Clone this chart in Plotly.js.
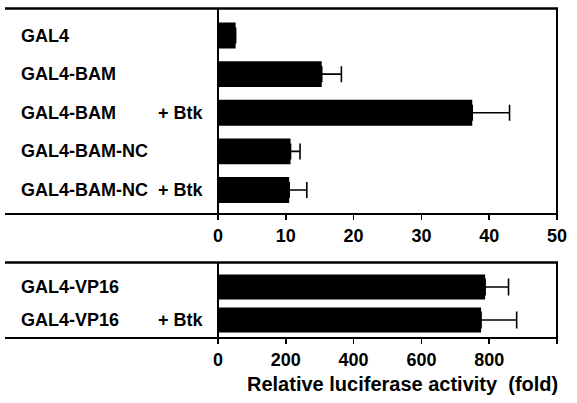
<!DOCTYPE html>
<html>
<head>
<meta charset="utf-8">
<script src="https://cdn.plot.ly/plotly-3.0.1.min.js"></script>
<style>html,body{margin:0;padding:0;background:#fff;}#chart{width:577px;height:403px;}</style>
</head>
<body>
<div id="chart"></div>
<script>
// ---- data ----
const topNames   = ["GAL4", "GAL4-BAM", "GAL4-BAM", "GAL4-BAM-NC", "GAL4-BAM-NC"];
const topBtk     = ["", "", "+ Btk", "", "+ Btk"];
const topValues  = [2.6, 15.3, 37.5, 10.7, 10.5];
const topErrors  = [0, 2.9, 5.5, 1.4, 2.6];

const botNames   = ["GAL4-VP16", "GAL4-VP16"];
const botBtk     = ["", "+ Btk"];
const botValues  = [788, 776];
const botErrors  = [69, 105];

const topTicks = [0, 10, 20, 30, 40, 50];
const botTicks = [0, 200, 400, 600, 800, 1000];
const xTitle = "Relative luciferase activity&nbsp; (fold)";

// ---- layout helpers ----
const W = 577, H = 403;
const px = x => x / W;
const py = y => 1 - y / H;
const FONT = "Liberation Sans, Arial, Helvetica, sans-serif";

const topKeys = topNames.map((n, i) => n + (topBtk[i] ? " " + topBtk[i] : ""));
const botKeys = botNames.map((n, i) => n + (botBtk[i] ? " " + botBtk[i] : ""));

const zeros = a => a.map(() => 0);

const traces = [
  {
    type: "bar", orientation: "h",
    x: topValues, y: topKeys, xaxis: "x", yaxis: "y",
    width: 0.67,
    marker: {color: "#000", line: {width: 0}},
    error_x: {type: "data", symmetric: false, array: topErrors, arrayminus: zeros(topErrors),
              color: "#000", thickness: 1.6, width: 8},
    hoverinfo: "none"
  },
  {
    type: "bar", orientation: "h",
    x: botValues, y: botKeys, xaxis: "x2", yaxis: "y2",
    width: 0.76,
    marker: {color: "#000", line: {width: 0}},
    error_x: {type: "data", symmetric: false, array: botErrors, arrayminus: zeros(botErrors),
              color: "#000", thickness: 1.6, width: 8.5},
    hoverinfo: "none"
  }
];

const annotations = [];
function addLabels(names, btk, keys, yref) {
  names.forEach((n, i) => {
    annotations.push({xref: "paper", yref: yref, x: px(19), y: keys[i], xanchor: "left", yanchor: "middle",
      text: n, showarrow: false, font: {family: FONT, size: 18, color: "#000", weight: "bold"}});
    if (btk[i]) {
      annotations.push({xref: "paper", yref: yref, x: px(206), y: keys[i], xanchor: "right", yanchor: "middle",
        text: btk[i], showarrow: false, font: {family: FONT, size: 18, color: "#000", weight: "bold"}});
    }
  });
}
addLabels(topNames, topBtk, topKeys, "y");
addLabels(botNames, botBtk, botKeys, "y2");
annotations.push({xref: "paper", yref: "paper", x: px(402), y: py(384), xanchor: "center", yanchor: "middle",
  text: xTitle, showarrow: false, font: {family: FONT, size: 20, color: "#000", weight: "bold"}});

function hline(x0, x1, y, w) {
  return {type: "line", xref: "paper", yref: "paper", x0: px(x0), x1: px(x1), y0: py(y), y1: py(y),
          line: {color: "#000", width: w}};
}
function vline(x, y0, y1, w) {
  return {type: "line", xref: "paper", yref: "paper", x0: px(x), x1: px(x), y0: py(y0), y1: py(y1),
          line: {color: "#000", width: w}};
}

const shapes = [
  hline(5, 558, 8.5, 2.5), hline(5, 558, 214, 2),
  vline(218, 8.5, 214, 2), vline(557, 8.5, 214, 2),
  hline(5, 558, 262.5, 2.5), hline(5, 558, 338, 2),
  vline(218, 262.5, 338, 2), vline(557, 262.5, 338, 2)
];

const axisCommon = {
  showgrid: false, zeroline: false, showline: false,
  ticks: "outside", ticklen: 5, tickwidth: 1.5, tickcolor: "#000",
  tickfont: {family: FONT, size: 18, color: "#000", weight: "bold"},
  fixedrange: true
};

const layout = {
  width: W, height: H,
  margin: {l: 0, r: 0, t: 0, b: 0},
  paper_bgcolor: "#fff", plot_bgcolor: "rgba(0,0,0,0)",
  showlegend: false,
  xaxis: Object.assign({}, axisCommon, {domain: [px(218), px(557)], range: [0, 50],
    tickvals: topTicks, ticktext: topTicks.map(String), anchor: "y"}),
  yaxis: {domain: [py(214), py(8.5)], type: "category", categoryorder: "array", categoryarray: topKeys,
    range: [4.62, -0.70], showticklabels: false, ticks: "", showgrid: false, zeroline: false, showline: false,
    fixedrange: true, anchor: "x"},
  xaxis2: Object.assign({}, axisCommon, {domain: [px(218), px(557)], range: [0, 1000],
    tickvals: botTicks, ticktext: botTicks.map(String), anchor: "y2"}),
  yaxis2: {domain: [py(338), py(262.5)], type: "category", categoryorder: "array", categoryarray: botKeys,
    range: [1.545, -0.74], showticklabels: false, ticks: "", showgrid: false, zeroline: false, showline: false,
    fixedrange: true, anchor: "x2"},
  annotations: annotations,
  shapes: shapes
};

Plotly.newPlot("chart", traces, layout, {displayModeBar: false, staticPlot: true});
</script>
</body>
</html>
